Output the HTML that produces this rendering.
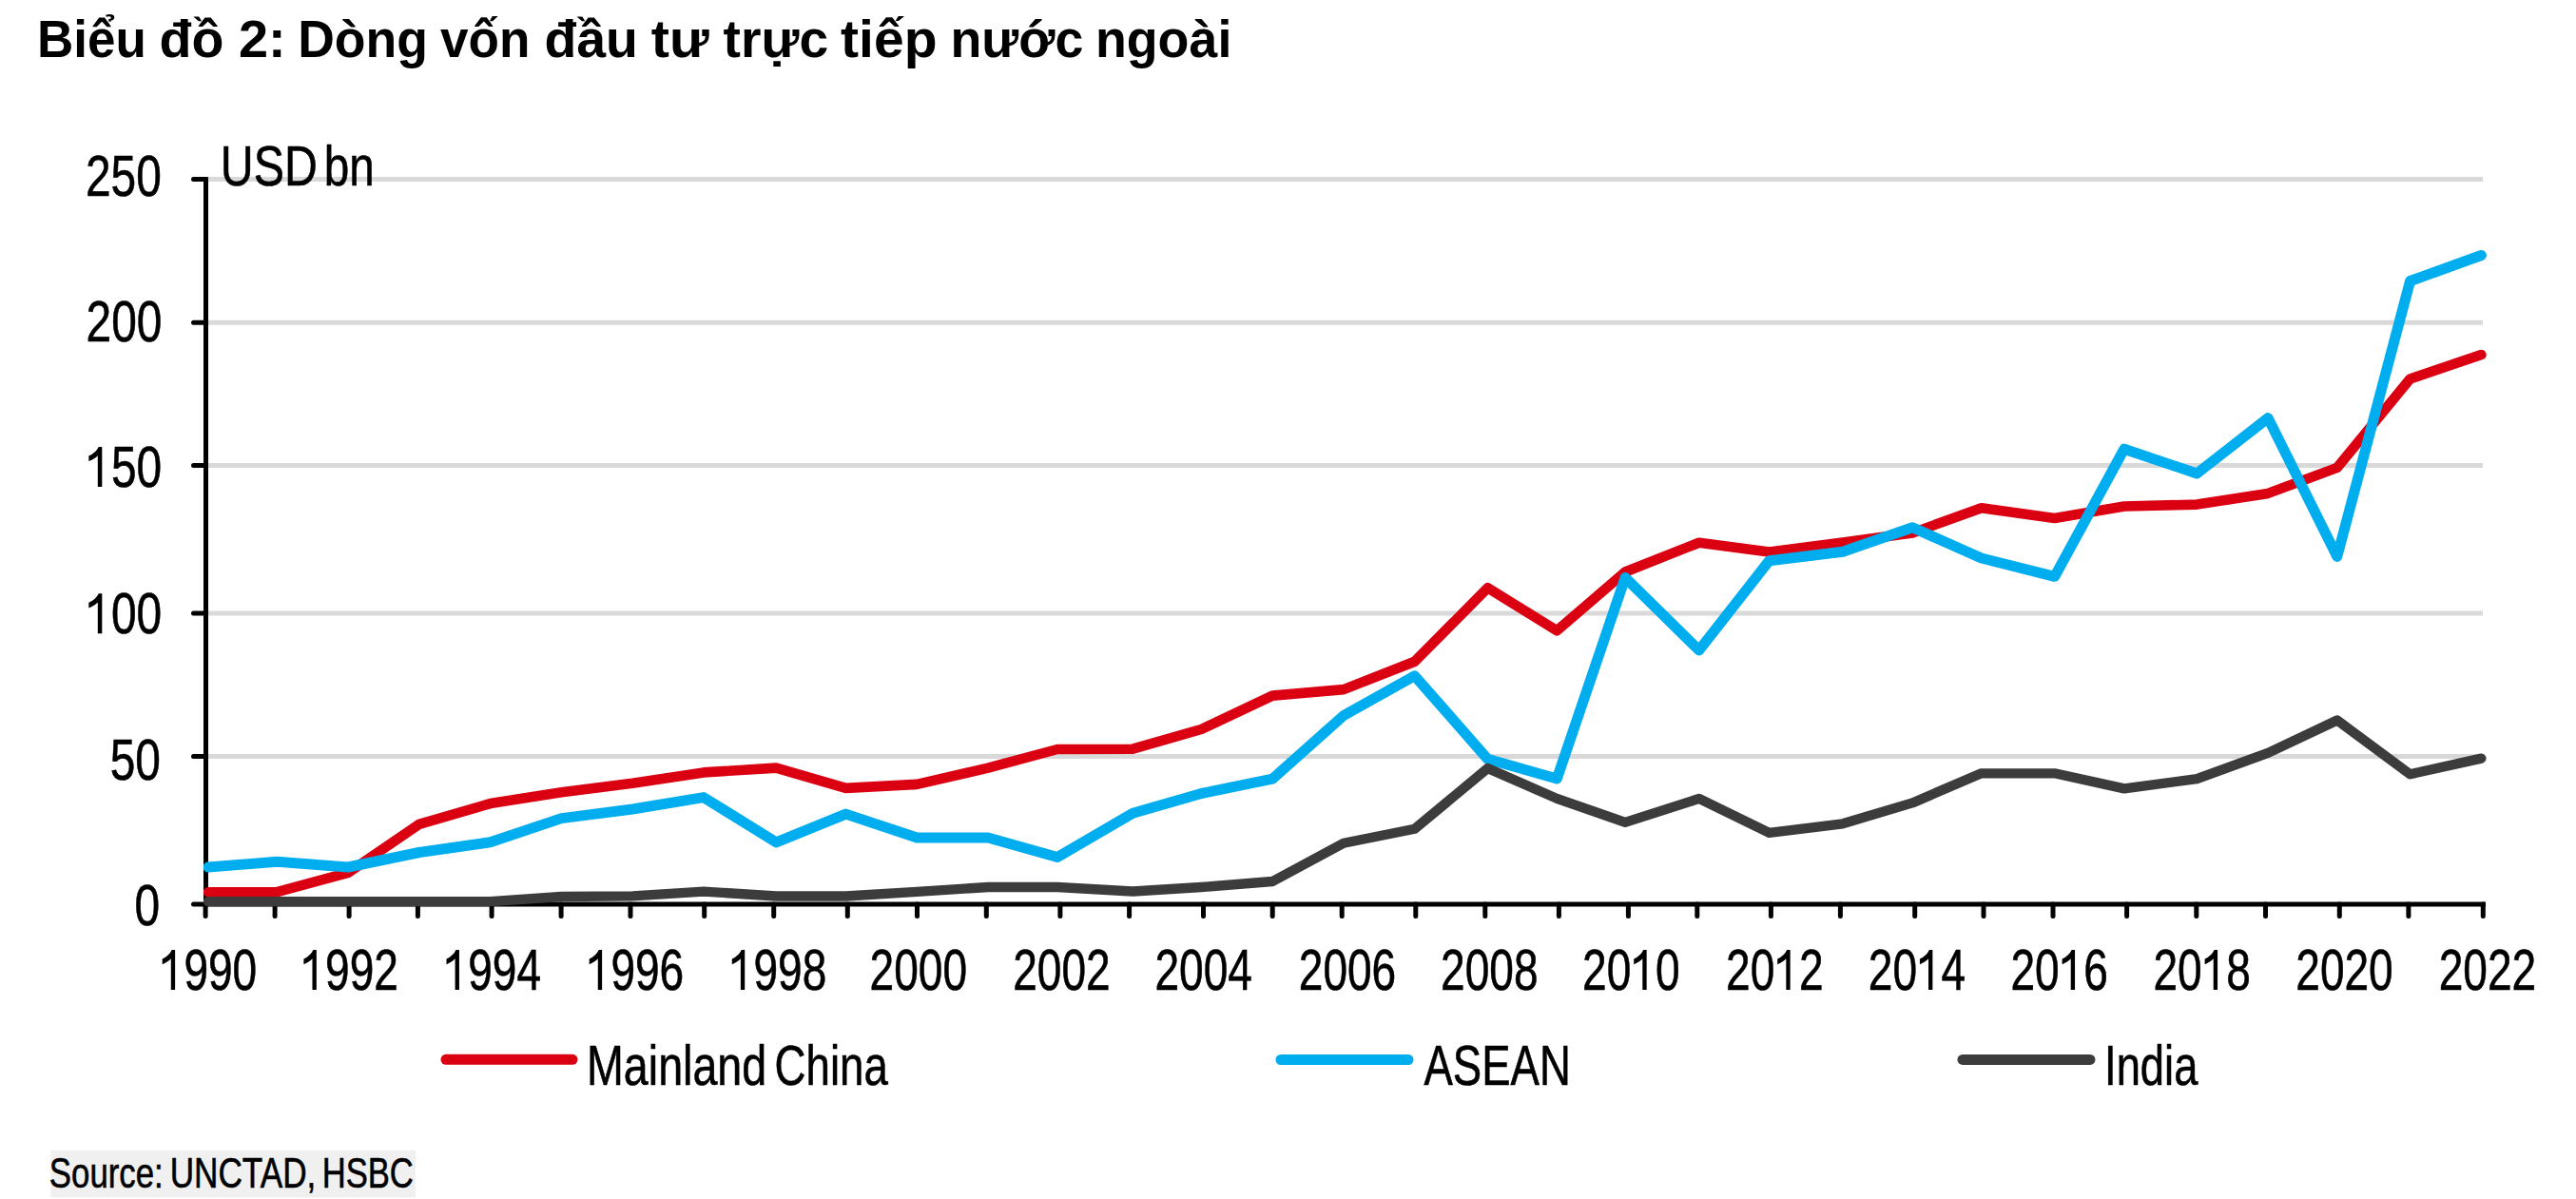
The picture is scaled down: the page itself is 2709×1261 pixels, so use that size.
<!DOCTYPE html>
<html><head><meta charset="utf-8"><style>
html,body{margin:0;padding:0;background:#fff;width:2709px;height:1261px;overflow:hidden;position:relative}
svg{position:absolute;left:0;top:0}
#wrap{position:absolute;left:0;top:0;width:2709px;height:1261px}
text{font-family:"Liberation Sans",sans-serif;fill:#000}
.c text,.c path{stroke:#000;stroke-width:0.6px}
.title{font-family:"Liberation Sans",sans-serif;font-weight:bold}
</style></head><body>
<div id="wrap"><svg width="2709" height="1261" viewBox="0 0 2709 1261">
<text transform="translate(38.98,59.5) scale(0.9554,1)" font-size="55.5" font-weight="bold">Biểu</text>
<text transform="translate(167.60,59.5) scale(1.0016,1)" font-size="55.5" font-weight="bold">đồ</text>
<text transform="translate(250.89,59.5) scale(1.0071,1)" font-size="55.5" font-weight="bold">2:</text>
<text transform="translate(313.14,59.5) scale(0.9649,1)" font-size="55.5" font-weight="bold">Dòng</text>
<text transform="translate(463.00,59.5) scale(0.9568,1)" font-size="55.5" font-weight="bold">vốn</text>
<text transform="translate(572.40,59.5) scale(0.9989,1)" font-size="55.5" font-weight="bold">đầu</text>
<text transform="translate(684.86,59.5) scale(1.0379,1)" font-size="55.5" font-weight="bold">tư</text>
<text transform="translate(760.50,59.5) scale(0.9963,1)" font-size="55.5" font-weight="bold">trực</text>
<text transform="translate(884.07,59.5) scale(1.0284,1)" font-size="55.5" font-weight="bold">tiếp</text>
<text transform="translate(999.42,59.5) scale(0.9703,1)" font-size="55.5" font-weight="bold">nước</text>
<text transform="translate(1151.92,59.5) scale(0.9693,1)" font-size="55.5" font-weight="bold">ngoài</text>
<rect x="53.4" y="1209.8" width="383.6" height="49.7" fill="#f0f0f0"/>
<line x1="219" y1="795.4" x2="2611" y2="795.4" stroke="#d9d9d9" stroke-width="5"/>
<line x1="219" y1="645" x2="2611" y2="645" stroke="#d9d9d9" stroke-width="5"/>
<line x1="219" y1="489.6" x2="2611" y2="489.6" stroke="#d9d9d9" stroke-width="5"/>
<line x1="219" y1="339.2" x2="2611" y2="339.2" stroke="#d9d9d9" stroke-width="5"/>
<line x1="219" y1="188.6" x2="2611" y2="188.6" stroke="#d9d9d9" stroke-width="5"/>
<line x1="216.5" y1="186.2" x2="216.5" y2="953.5" stroke="#000" stroke-width="5"/>
<line x1="214" y1="951" x2="2614" y2="951" stroke="#000" stroke-width="5"/>
<line x1="203.5" y1="951" x2="216.5" y2="951" stroke="#000" stroke-width="5" stroke-linecap="round"/>
<line x1="203.5" y1="795.4" x2="216.5" y2="795.4" stroke="#000" stroke-width="5" stroke-linecap="round"/>
<line x1="203.5" y1="645" x2="216.5" y2="645" stroke="#000" stroke-width="5" stroke-linecap="round"/>
<line x1="203.5" y1="489.6" x2="216.5" y2="489.6" stroke="#000" stroke-width="5" stroke-linecap="round"/>
<line x1="203.5" y1="339.2" x2="216.5" y2="339.2" stroke="#000" stroke-width="5" stroke-linecap="round"/>
<line x1="203.5" y1="188.6" x2="216.5" y2="188.6" stroke="#000" stroke-width="5" stroke-linecap="round"/>
<line x1="216.1" y1="951" x2="216.1" y2="963.5" stroke="#000" stroke-width="5" stroke-linecap="round"/>
<line x1="289.1" y1="951" x2="289.1" y2="963.5" stroke="#000" stroke-width="5" stroke-linecap="round"/>
<line x1="367.1" y1="951" x2="367.1" y2="963.5" stroke="#000" stroke-width="5" stroke-linecap="round"/>
<line x1="439.4" y1="951" x2="439.4" y2="963.5" stroke="#000" stroke-width="5" stroke-linecap="round"/>
<line x1="517.1" y1="951" x2="517.1" y2="963.5" stroke="#000" stroke-width="5" stroke-linecap="round"/>
<line x1="590.1" y1="951" x2="590.1" y2="963.5" stroke="#000" stroke-width="5" stroke-linecap="round"/>
<line x1="663.0" y1="951" x2="663.0" y2="963.5" stroke="#000" stroke-width="5" stroke-linecap="round"/>
<line x1="740.7" y1="951" x2="740.7" y2="963.5" stroke="#000" stroke-width="5" stroke-linecap="round"/>
<line x1="813.7" y1="951" x2="813.7" y2="963.5" stroke="#000" stroke-width="5" stroke-linecap="round"/>
<line x1="891.3" y1="951" x2="891.3" y2="963.5" stroke="#000" stroke-width="5" stroke-linecap="round"/>
<line x1="964.5" y1="951" x2="964.5" y2="963.5" stroke="#000" stroke-width="5" stroke-linecap="round"/>
<line x1="1037.3" y1="951" x2="1037.3" y2="963.5" stroke="#000" stroke-width="5" stroke-linecap="round"/>
<line x1="1114.9" y1="951" x2="1114.9" y2="963.5" stroke="#000" stroke-width="5" stroke-linecap="round"/>
<line x1="1187.6" y1="951" x2="1187.6" y2="963.5" stroke="#000" stroke-width="5" stroke-linecap="round"/>
<line x1="1265.5" y1="951" x2="1265.5" y2="963.5" stroke="#000" stroke-width="5" stroke-linecap="round"/>
<line x1="1338.2" y1="951" x2="1338.2" y2="963.5" stroke="#000" stroke-width="5" stroke-linecap="round"/>
<line x1="1411.2" y1="951" x2="1411.2" y2="963.5" stroke="#000" stroke-width="5" stroke-linecap="round"/>
<line x1="1488.8" y1="951" x2="1488.8" y2="963.5" stroke="#000" stroke-width="5" stroke-linecap="round"/>
<line x1="1561.8" y1="951" x2="1561.8" y2="963.5" stroke="#000" stroke-width="5" stroke-linecap="round"/>
<line x1="1639.4" y1="951" x2="1639.4" y2="963.5" stroke="#000" stroke-width="5" stroke-linecap="round"/>
<line x1="1712.4" y1="951" x2="1712.4" y2="963.5" stroke="#000" stroke-width="5" stroke-linecap="round"/>
<line x1="1784.8" y1="951" x2="1784.8" y2="963.5" stroke="#000" stroke-width="5" stroke-linecap="round"/>
<line x1="1862.4" y1="951" x2="1862.4" y2="963.5" stroke="#000" stroke-width="5" stroke-linecap="round"/>
<line x1="1935.4" y1="951" x2="1935.4" y2="963.5" stroke="#000" stroke-width="5" stroke-linecap="round"/>
<line x1="2013.7" y1="951" x2="2013.7" y2="963.5" stroke="#000" stroke-width="5" stroke-linecap="round"/>
<line x1="2086" y1="951" x2="2086" y2="963.5" stroke="#000" stroke-width="5" stroke-linecap="round"/>
<line x1="2159" y1="951" x2="2159" y2="963.5" stroke="#000" stroke-width="5" stroke-linecap="round"/>
<line x1="2236.6" y1="951" x2="2236.6" y2="963.5" stroke="#000" stroke-width="5" stroke-linecap="round"/>
<line x1="2309.8" y1="951" x2="2309.8" y2="963.5" stroke="#000" stroke-width="5" stroke-linecap="round"/>
<line x1="2382.5" y1="951" x2="2382.5" y2="963.5" stroke="#000" stroke-width="5" stroke-linecap="round"/>
<line x1="2460.3" y1="951" x2="2460.3" y2="963.5" stroke="#000" stroke-width="5" stroke-linecap="round"/>
<line x1="2532.9" y1="951" x2="2532.9" y2="963.5" stroke="#000" stroke-width="5" stroke-linecap="round"/>
<line x1="2611.3" y1="951" x2="2611.3" y2="963.5" stroke="#000" stroke-width="5" stroke-linecap="round"/>
<defs><clipPath id="pc"><rect x="214" y="0" width="2495" height="1000"/></clipPath></defs><g clip-path="url(#pc)">
<polyline points="219.0,938.2 291.3,938.2 366.1,917.8 440.8,866.9 515.6,845.1 590.4,833.3 665.2,823.7 739.9,812.4 816.3,807.6 889.5,828.9 964.3,824.9 1039.1,807.6 1112.0,788.0 1191.3,787.7 1263.4,767.0 1338.2,731.6 1413.0,725.1 1487.7,695.8 1564.5,618.3 1637.3,663.3 1709.1,601.5 1786.8,570.7 1860.6,580.6 1937.9,570.6 2011.2,560.5 2083.7,534.3 2160.7,544.9 2233.9,532.5 2310.3,530.6 2385.1,518.9 2457.8,491.9 2534.6,398.4 2609.4,373.1" fill="none" stroke="#db0011" stroke-width="10.6" stroke-linejoin="round" stroke-linecap="round"/>
<polyline points="219.0,912.0 291.3,906.2 366.1,912.0 440.8,896.5 515.6,885.8 590.4,860.6 665.2,851.0 739.9,838.6 816.3,885.9 889.5,856.1 964.3,881.0 1039.1,881.0 1112.0,901.5 1191.3,855.3 1263.4,834.5 1338.2,819.2 1413.0,752.5 1487.7,710.8 1564.5,798.3 1637.3,819.0 1709.1,607.5 1786.8,683.9 1860.6,589.7 1937.9,580.3 2011.2,554.7 2083.7,587.0 2160.7,606.3 2233.9,472.2 2310.3,498.0 2385.1,439.6 2457.8,585.4 2534.6,295.5 2609.4,268.5" fill="none" stroke="#00aeef" stroke-width="11" stroke-linejoin="round" stroke-linecap="round"/>
<polyline points="219.0,948.2 291.3,948.2 366.1,948.2 440.8,948.2 515.6,948.2 590.4,943.0 665.2,942.3 739.9,937.6 816.3,942.5 889.5,942.5 964.3,937.8 1039.1,933.0 1112.0,933.0 1191.3,937.5 1263.4,933.0 1338.2,927.0 1413.0,886.8 1487.7,871.8 1564.5,808.0 1637.3,839.9 1709.1,864.8 1786.8,839.9 1860.6,875.8 1937.9,866.3 2011.2,844.4 2083.7,813.3 2160.7,813.3 2233.9,829.4 2310.3,819.1 2385.1,791.8 2457.8,757.5 2534.6,814.3 2609.4,797.6" fill="none" stroke="#3c3c3c" stroke-width="10.3" stroke-linejoin="round" stroke-linecap="round"/>
</g>
<line x1="469" y1="1114.3" x2="602" y2="1114.3" stroke="#db0011" stroke-width="11" stroke-linecap="round"/>
<line x1="1347" y1="1114.5" x2="1481" y2="1114.5" stroke="#00aeef" stroke-width="11" stroke-linecap="round"/>
<line x1="2064" y1="1114.4" x2="2198" y2="1114.4" stroke="#3c3c3c" stroke-width="11" stroke-linecap="round"/>
<g class="c">
<text transform="translate(231.87,194.6) scale(0.8050,1)" font-size="60">USD</text>
<text transform="translate(340.72,194.6) scale(0.7949,1)" font-size="60">bn</text>
<text transform="translate(617.01,1140.6) scale(0.7774,1)" font-size="60">Mainland</text>
<text transform="translate(814.62,1140.6) scale(0.7610,1)" font-size="60">China</text>
<text transform="translate(1497.50,1140.8) scale(0.7586,1)" font-size="60">ASEAN</text>
<text transform="translate(2213.07,1140.6) scale(0.7556,1)" font-size="60">India</text>
<text transform="translate(168.20000000000002,972.6) scale(0.785,1)" text-anchor="end" font-size="61">0</text>
<text transform="translate(168.9,820.2) scale(0.785,1)" text-anchor="end" font-size="61">50</text>
<text transform="translate(170.20000000000002,666.2) scale(0.785,1)" text-anchor="end" font-size="61"> 00</text>
<path transform="translate(170.20000000000002,666.2) scale(0.785,1) translate(-101.776,0) scale(0.029785,-0.029785)" d="M 727 0 L 535 0 L 535 1100 Q 420 1000 130 900 L 130 1090 Q 450 1200 575 1409 L 727 1409 Z"/>
<text transform="translate(170.20000000000002,511.9) scale(0.785,1)" text-anchor="end" font-size="61"> 50</text>
<path transform="translate(170.20000000000002,511.9) scale(0.785,1) translate(-101.776,0) scale(0.029785,-0.029785)" d="M 727 0 L 535 0 L 535 1100 Q 420 1000 130 900 L 130 1090 Q 450 1200 575 1409 L 727 1409 Z"/>
<text transform="translate(170.5,359.2) scale(0.785,1)" text-anchor="end" font-size="61">200</text>
<text transform="translate(169.8,205.5) scale(0.785,1)" text-anchor="end" font-size="61">250</text>
<text transform="translate(219.0,1041.0) scale(0.755,1)" text-anchor="middle" font-size="61"> 990</text>
<path transform="translate(219.0,1041.0) scale(0.755,1) translate(-67.851,0) scale(0.029785,-0.029785)" d="M 727 0 L 535 0 L 535 1100 Q 420 1000 130 900 L 130 1090 Q 450 1200 575 1409 L 727 1409 Z"/>
<text transform="translate(367.69999999999993,1041.0) scale(0.755,1)" text-anchor="middle" font-size="61"> 992</text>
<path transform="translate(367.69999999999993,1041.0) scale(0.755,1) translate(-67.851,0) scale(0.029785,-0.029785)" d="M 727 0 L 535 0 L 535 1100 Q 420 1000 130 900 L 130 1090 Q 450 1200 575 1409 L 727 1409 Z"/>
<text transform="translate(517.8000000000001,1041.0) scale(0.755,1)" text-anchor="middle" font-size="61"> 994</text>
<path transform="translate(517.8000000000001,1041.0) scale(0.755,1) translate(-67.851,0) scale(0.029785,-0.029785)" d="M 727 0 L 535 0 L 535 1100 Q 420 1000 130 900 L 130 1090 Q 450 1200 575 1409 L 727 1409 Z"/>
<text transform="translate(668.0,1041.0) scale(0.755,1)" text-anchor="middle" font-size="61"> 996</text>
<path transform="translate(668.0,1041.0) scale(0.755,1) translate(-67.851,0) scale(0.029785,-0.029785)" d="M 727 0 L 535 0 L 535 1100 Q 420 1000 130 900 L 130 1090 Q 450 1200 575 1409 L 727 1409 Z"/>
<text transform="translate(818.1000000000001,1041.0) scale(0.755,1)" text-anchor="middle" font-size="61"> 998</text>
<path transform="translate(818.1000000000001,1041.0) scale(0.755,1) translate(-67.851,0) scale(0.029785,-0.029785)" d="M 727 0 L 535 0 L 535 1100 Q 420 1000 130 900 L 130 1090 Q 450 1200 575 1409 L 727 1409 Z"/>
<text transform="translate(965.8000000000001,1041.0) scale(0.755,1)" text-anchor="middle" font-size="61">2000</text>
<text transform="translate(1116.3999999999999,1041.0) scale(0.755,1)" text-anchor="middle" font-size="61">2002</text>
<text transform="translate(1265.7000000000003,1041.0) scale(0.755,1)" text-anchor="middle" font-size="61">2004</text>
<text transform="translate(1417.0,1041.0) scale(0.755,1)" text-anchor="middle" font-size="61">2006</text>
<text transform="translate(1566.2999999999997,1041.0) scale(0.755,1)" text-anchor="middle" font-size="61">2008</text>
<text transform="translate(1715.2999999999997,1041.0) scale(0.755,1)" text-anchor="middle" font-size="61">20 0</text>
<path transform="translate(1715.2999999999997,1041.0) scale(0.755,1) translate(0.000,0) scale(0.029785,-0.029785)" d="M 727 0 L 535 0 L 535 1100 Q 420 1000 130 900 L 130 1090 Q 450 1200 575 1409 L 727 1409 Z"/>
<text transform="translate(1866.2999999999997,1041.0) scale(0.755,1)" text-anchor="middle" font-size="61">20 2</text>
<path transform="translate(1866.2999999999997,1041.0) scale(0.755,1) translate(0.000,0) scale(0.029785,-0.029785)" d="M 727 0 L 535 0 L 535 1100 Q 420 1000 130 900 L 130 1090 Q 450 1200 575 1409 L 727 1409 Z"/>
<text transform="translate(2016.0,1041.0) scale(0.755,1)" text-anchor="middle" font-size="61">20 4</text>
<path transform="translate(2016.0,1041.0) scale(0.755,1) translate(0.000,0) scale(0.029785,-0.029785)" d="M 727 0 L 535 0 L 535 1100 Q 420 1000 130 900 L 130 1090 Q 450 1200 575 1409 L 727 1409 Z"/>
<text transform="translate(2165.7000000000003,1041.0) scale(0.755,1)" text-anchor="middle" font-size="61">20 6</text>
<path transform="translate(2165.7000000000003,1041.0) scale(0.755,1) translate(0.000,0) scale(0.029785,-0.029785)" d="M 727 0 L 535 0 L 535 1100 Q 420 1000 130 900 L 130 1090 Q 450 1200 575 1409 L 727 1409 Z"/>
<text transform="translate(2315.7000000000003,1041.0) scale(0.755,1)" text-anchor="middle" font-size="61">20 8</text>
<path transform="translate(2315.7000000000003,1041.0) scale(0.755,1) translate(0.000,0) scale(0.029785,-0.029785)" d="M 727 0 L 535 0 L 535 1100 Q 420 1000 130 900 L 130 1090 Q 450 1200 575 1409 L 727 1409 Z"/>
<text transform="translate(2465.5,1041.0) scale(0.755,1)" text-anchor="middle" font-size="61">2020</text>
<text transform="translate(2615.9000000000005,1041.0) scale(0.755,1)" text-anchor="middle" font-size="61">2022</text>
<text transform="translate(51.80,1249.0) scale(0.8007,1)" font-size="43.5">Source:</text>
<text transform="translate(178.67,1249.0) scale(0.8087,1)" font-size="43.5">UNCTAD,</text>
<text transform="translate(338.72,1249.0) scale(0.7957,1)" font-size="43.5">HSBC</text>
</g>

</svg></div>
</body></html>
